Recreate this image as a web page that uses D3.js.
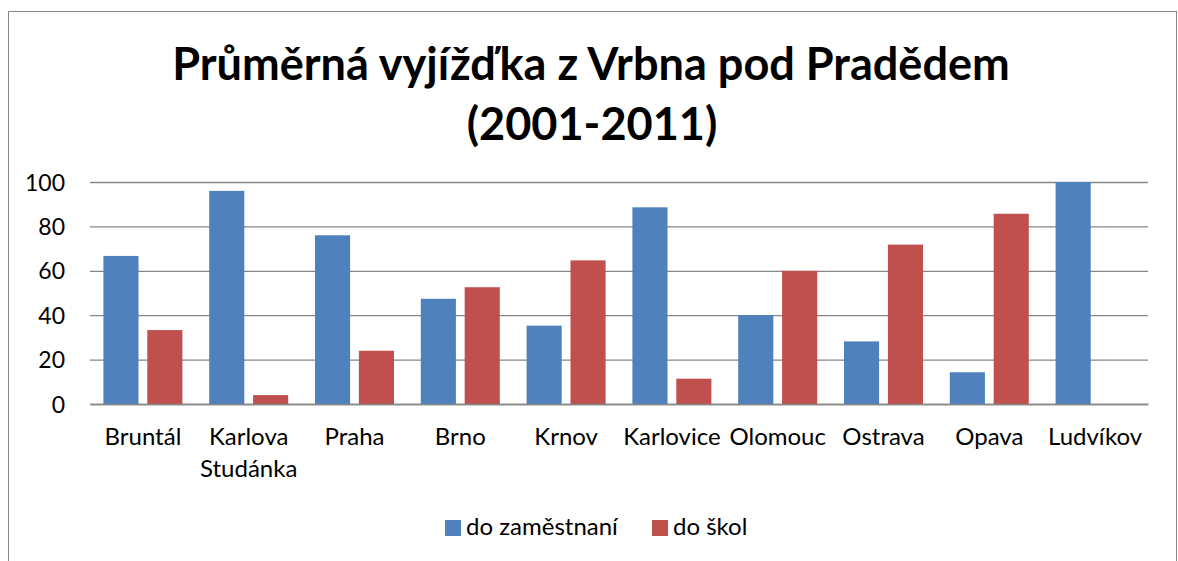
<!DOCTYPE html>
<html>
<head>
<meta charset="utf-8">
<script src="https://cdn.jsdelivr.net/npm/d3@7"></script>
<style>
  html, body { margin: 0; padding: 0; background: #fff; }
  svg { display: block; }
  text { font-family: Lato, "Open Sans", sans-serif; fill: #000; }
</style>
</head>
<body>
<svg id="chart" width="1178" height="561"></svg>
<script>
const titleLines = ["Průměrná vyjížďka z Vrbna pod Pradědem", "(2001-2011)"];
const categories = ["Bruntál", "Karlova Studánka", "Praha", "Brno", "Krnov", "Karlovice", "Olomouc", "Ostrava", "Opava", "Ludvíkov"];
const seriesNames = ["do zaměstnaní", "do škol"];
const doZamestnani = [66.7, 96, 76, 47.4, 35.3, 88.6, 40, 28.2, 14.3, 100];
const doSkol = [33.3, 4, 24, 52.6, 64.7, 11.4, 60, 71.8, 85.7, 0];
const yTicks = [0, 20, 40, 60, 80, 100];
const colors = ["#4F81BD", "#C0504D"];

const seriesValues = [doZamestnani, doSkol];
const data = categories.map((c, i) => ({ cat: c, vals: seriesNames.map((s, j) => ({ s, v: seriesValues[j][i] })) }));

const svg = d3.select("#chart");

// outer border
svg.append("rect").attr("x", 8.5).attr("y", 11.5).attr("width", 1168).attr("height", 560)
  .attr("fill", "#fff").attr("stroke", "#868686").attr("stroke-width", 1);

// title
const t1 = svg.append("text").attr("x", 591).attr("y", 80).attr("text-anchor", "middle")
  .attr("font-weight", "bold").attr("font-size", 41).text(titleLines[0]);
const w1 = t1.node().getComputedTextLength();
const titleSize = 41 * 838 / w1;
t1.attr("font-size", titleSize);
svg.append("text").attr("x", 592).attr("y", 140).attr("text-anchor", "middle")
  .attr("font-weight", "bold").attr("font-size", titleSize).text(titleLines[1]);

// scales
const x0 = d3.scaleBand().domain(categories).range([90, 1148]).paddingInner(0).paddingOuter(0);
const groupPad = 13.4;
const x1 = d3.scaleBand().domain(seriesNames).range([groupPad, x0.bandwidth() - groupPad]).paddingInner(0.2).paddingOuter(0);
const y = d3.scaleLinear().domain([0, 100]).range([404, 182]);

// gridlines
const yAxis = d3.axisLeft(y).tickValues(yTicks).tickSize(-(1148 - 90)).tickPadding(25);
const gy = svg.append("g").attr("transform", "translate(90,0)").call(yAxis);
gy.select(".domain").remove();
gy.selectAll(".tick line").attr("stroke", "#868686").attr("stroke-width", 1.3);
gy.selectAll(".tick text").attr("font-size", 23).attr("fill", "#000").attr("dy", "0.35em");

// bars
const groups = svg.append("g").selectAll("g").data(data).join("g")
  .attr("transform", d => `translate(${x0(d.cat)},0)`);
groups.selectAll("rect").data(d => d.vals).join("rect")
  .attr("x", d => x1(d.s))
  .attr("width", x1.bandwidth())
  .attr("y", d => y(d.v))
  .attr("height", d => y(0) - y(d.v))
  .attr("fill", (d, i) => colors[i]);

// x axis baseline
const xAxis = d3.axisBottom(x0).tickSize(0).tickPadding(0);
const gx = svg.append("g").attr("transform", "translate(0,404)").call(xAxis);
gx.select(".domain").attr("stroke", "#868686").attr("stroke-width", 1.5);
gx.selectAll(".tick text").remove();

// category labels with wrapping
const catFont = 24;
gx.selectAll(".tick").each(function(d) {
  const g = d3.select(this);
  const txt = g.append("text").attr("text-anchor", "middle").attr("font-size", catFont).attr("y", 41).text(d);
  if (txt.node().getComputedTextLength() > x0.bandwidth() + 6) {
    const words = d.split(" ");
    txt.text(null);
    words.forEach((w, k) => {
      txt.append("tspan").attr("x", 0).attr("y", 41 + k * 32).text(w);
    });
  }
});

// legend
const legend = svg.append("g");
const legendX = [445, 652];
seriesNames.forEach((s, i) => {
  legend.append("rect").attr("x", legendX[i]).attr("y", 520).attr("width", 16).attr("height", 16).attr("fill", colors[i]);
  legend.append("text").attr("x", legendX[i] + 21).attr("y", 535).attr("font-size", 24).text(s);
});
</script>
</body>
</html>
